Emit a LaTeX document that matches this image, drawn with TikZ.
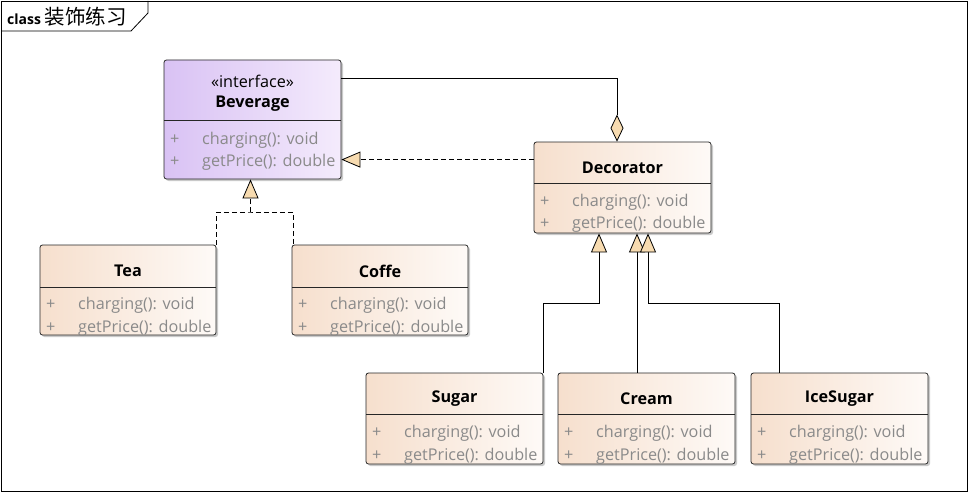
\documentclass[tikz,border=0pt]{standalone}
\usepackage{fontspec}
\setmainfont{Open Sans}
\newfontfamily\cjk{Noto Sans CJK SC}
\usetikzlibrary{arrows.meta,shadows,calc}
\definecolor{clsL}{HTML}{F6DFCD}
\definecolor{clsR}{HTML}{FEFAF7}
\definecolor{ifL}{HTML}{D9C2F4}
\definecolor{ifR}{HTML}{F4EBFC}
\definecolor{tri}{HTML}{F7DBB0}
\definecolor{attr}{HTML}{8A8A8A}
\tikzset{
  classbox/.style={draw=black!85, line width=0.8pt, rounded corners=2.5pt, inner sep=0pt,
    drop shadow={shadow xshift=2pt, shadow yshift=-2pt, opacity=0.35, fill=black!60}},
  divline/.style={draw=black!85, line width=0.7pt},
  ttl/.style={font=\fontsize{16.2}{18}\selectfont\bfseries, text=black, inner sep=0pt, yshift=-2pt},
  stereo/.style={font=\fontsize{16.2}{18}\selectfont, text=black, inner sep=0pt, yshift=-2pt},
  attrtxt/.style={font=\fontsize{16.2}{18}\selectfont, text=attr, inner sep=0pt, anchor=west, yshift=-2pt},
  conn/.style={draw=black, line width=0.7pt},
  gen/.style={conn, -{Triangle[width=16pt,length=19pt,fill=tri,line width=0.8pt]}},
  agg/.style={conn, -{Diamond[width=13pt,length=27pt,fill=tri,line width=0.8pt]}},
  dashline/.style={dash pattern=on 5pt off 3pt},
}
\newcommand\umlbox[8]{%
  \node[classbox, left color=#7, right color=#8,
        minimum width={(#4-#2)*1pt}, minimum height={(#5-#3)*1pt}]
        (#1) at ({(#2+#4)/2},{(#3+#5)/2}) {};
  \draw[divline] (#2,#6) -- (#4,#6);
}
\newcommand\umlrows[4]{%
  \node[attrtxt] (#1r1p) at (#2+6,#3) {+};
  \node[attrtxt] (#1r1) at (#2+38,#3) {charging(): void};
  \node[attrtxt] (#1r2p) at (#2+6,#4) {+};
  \node[attrtxt] (#1r2) at (#2+38,#4) {getPrice(): double};
}
\begin{document}
\begin{tikzpicture}[x=1pt,y=-1pt]
\useasboundingbox (0,0) rectangle (968,492);
\fill[white] (0,0) rectangle (968,492);
% frame
\draw[line width=0.8pt] (1,1) rectangle (967,491);
\draw[line width=0.8pt] (1,31) -- (131,31) -- (148,13) -- (148,1);
\node[inner sep=0pt, anchor=west] (frametitle) at (7,17)
  {\fontsize{14}{16}\selectfont\bfseries class {\cjk\mdseries\fontsize{20.5}{22}\selectfont 装饰练习}};

% Beverage
\umlbox{Beverage}{164}{60}{341}{179}{120}{ifL}{ifR}
\node[stereo] (bevst) at (252.5,79) {«interface»};
\node[ttl] (bevt) at (252.5,102) {Beverage};
\umlrows{bev}{164}{138}{160}

% Decorator
\umlbox{Decorator}{534}{142}{711}{233}{183}{clsL}{clsR}
\node[ttl] (dect) at (622.5,166) {Decorator};
\umlrows{dec}{534}{200}{222}

% Tea, Coffe
\umlbox{Tea}{40}{245}{216}{335}{287}{clsL}{clsR}
\node[ttl] (teat) at (128,269) {Tea};
\umlrows{tea}{40}{303}{326}
\umlbox{Coffe}{292}{245}{468}{335}{287}{clsL}{clsR}
\node[ttl] (coft) at (380,269) {Coffe};
\umlrows{cof}{292}{303}{326}

% Sugar, Cream, IceSugar
\umlbox{Sugar}{366}{373}{543}{464}{414}{clsL}{clsR}
\node[ttl] (sugt) at (454.5,397) {Sugar};
\umlrows{sug}{366}{431}{454}
\umlbox{Cream}{558}{373}{735}{464}{414}{clsL}{clsR}
\node[ttl] (crmt) at (646.5,397) {Cream};
\umlrows{crm}{558}{431}{454}
\umlbox{IceSugar}{751}{373}{928}{464}{414}{clsL}{clsR}
\node[ttl] (icet) at (839.5,397) {IceSugar};
\umlrows{ice}{751}{431}{454}

% connectors
\draw[agg] ($(Beverage.north east)+(0,19)$) -| (Decorator.north -| 617,0);
\draw[gen, dashline] ($(Decorator.north west)+(0,18)$) -- ($(Beverage.north east)+(0,100)$);
\coordinate (tcj) at (250.5,212);
\draw[conn, dashline] (Tea.north east) |- (tcj) -| (Coffe.north -| 293,0);
\draw[gen, dashline] (tcj) -- (Beverage.south -| tcj);
\draw[gen] (Sugar.north east) |- (599,303) -- (Decorator.south -| 599,0);
\draw[gen] (Cream.north -| 637,0) -- (Decorator.south -| 637,0);
\draw[gen] (IceSugar.north -| 779,0) |- (648,303) -- (Decorator.south -| 648,0);
\end{tikzpicture}
\end{document}
